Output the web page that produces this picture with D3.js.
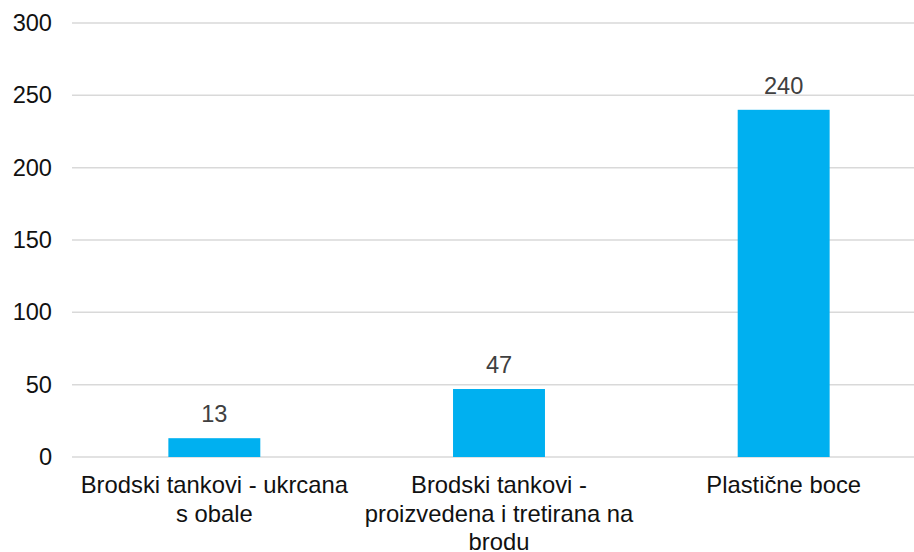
<!DOCTYPE html>
<html>
<head>
<meta charset="utf-8">
<script src="https://cdn.jsdelivr.net/npm/d3@7"></script>
<style>
  body { margin: 0; background: #fff; }
  svg { display: block; font-family: "Liberation Sans", Arial, sans-serif; }
</style>
</head>
<body>
<div id="chart"></div>
<script>
// chart data
var categories = ["Brodski tankovi - ukrcana s obale", "Brodski tankovi - proizvedena i tretirana na brodu", "Plastične boce"];
var values = [13, 47, 240];
var yTicks = [0, 50, 100, 150, 200, 250, 300];

var width = 914, height = 552;

var svg = d3.select("#chart").append("svg")
    .attr("width", width)
    .attr("height", height);

var x = d3.scaleBand()
    .domain(categories)
    .range([72, 926])
    .paddingInner(0.677)
    .paddingOuter(0.3385);

var y = d3.scaleLinear()
    .domain([0, 300])
    .range([457, 23]);

// gridlines
svg.selectAll("line.grid")
    .data(yTicks)
    .enter()
    .append("line")
    .attr("class", "grid")
    .attr("x1", 72)
    .attr("x2", width)
    .attr("y1", function(d){ return y(d); })
    .attr("y2", function(d){ return y(d); })
    .attr("stroke", "#d9d9d9")
    .attr("stroke-width", 1.5);

// y axis labels
var yAxis = d3.axisLeft(y).tickValues(yTicks).tickSize(0).tickPadding(0);
var gy = svg.append("g")
    .attr("transform", "translate(52,0)")
    .call(yAxis);
gy.select(".domain").remove();
gy.selectAll("text")
    .attr("font-size", 23.6)
    .attr("font-family", "Liberation Sans, Arial, sans-serif")
    .attr("fill", "#111");

// bars
svg.selectAll("rect.bar")
    .data(values)
    .enter()
    .append("rect")
    .attr("class", "bar")
    .attr("x", function(d,i){ return x(categories[i]); })
    .attr("width", x.bandwidth())
    .attr("y", function(d){ return y(d); })
    .attr("height", function(d){ return y(0) - y(d); })
    .attr("fill", "#00b0f0");

// value labels
svg.selectAll("text.val")
    .data(values)
    .enter()
    .append("text")
    .attr("class", "val")
    .attr("x", function(d,i){ return x(categories[i]) + x.bandwidth()/2; })
    .attr("y", function(d){ return y(d) - 16; })
    .attr("text-anchor", "middle")
    .attr("font-size", 23.6)
    .attr("fill", "#404040")
    .text(function(d){ return d; });

// category labels, wrapped like the original
function wrap(label, maxW, size) {
    var probe = svg.append("text").attr("font-size", size);
    var words = label.split(" "), lines = [], cur = "";
    words.forEach(function(w){
        var test = cur ? cur + " " + w : w;
        probe.text(test);
        if (probe.node().getComputedTextLength() > maxW && cur) {
            lines.push(cur);
            cur = w;
        } else {
            cur = test;
        }
    });
    if (cur) lines.push(cur);
    probe.remove();
    return lines;
}

categories.forEach(function(c){
    var lines = wrap(c, 276, 23.8);
    var t = svg.append("text")
        .attr("text-anchor", "middle")
        .attr("font-size", 23.8)
        .attr("fill", "#111")
        .attr("x", x(c) + x.bandwidth()/2)
        .attr("y", 493);
    lines.forEach(function(l, i){
        t.append("tspan")
            .attr("x", x(c) + x.bandwidth()/2)
            .attr("dy", i === 0 ? 0 : 28.5)
            .text(l);
    });
});
</script>
</body>
</html>
